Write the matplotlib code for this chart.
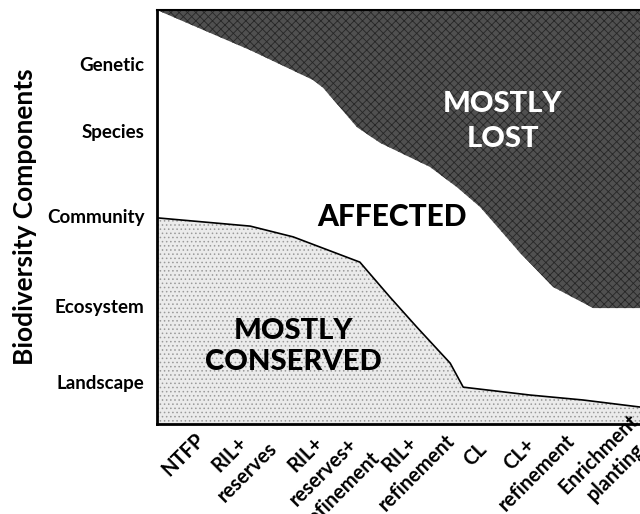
import matplotlib
matplotlib.use("Agg")
import matplotlib.pyplot as plt

plt.rcParams['font.family'] = ['Lato', 'DejaVu Sans']
plt.rcParams['hatch.linewidth'] = 0.6

# eixo y: componentes de biodiversidade (posicoes relativas, 0-100)
componentes = ['Landscape', 'Ecosystem', 'Community', 'Species', 'Genetic']
pos_comp = [10.1, 28.5, 50.2, 70.8, 87.0]

# eixo x: tratamentos (posicoes relativas, 0-100)
tratamentos = ['NTFP', 'RIL+\nreserves', 'RIL+\nreserves+\nrefinement', 'RIL+\nrefinement',
               'CL', 'CL+\nrefinement', 'Enrichment\nplanting']
pos_trat = [4.0, 13.5, 29.4, 48.7, 64.4, 73.5, 89.9]

# limite superior (afetado / perdido)
x_perdido = [0, 19.3, 32.3, 34.4, 41.4, 46.2, 56.5, 62.1, 66.9, 75.2, 82.0, 90.3, 100]
y_perdido = [100, 90.3, 83.1, 81.2, 71.7, 67.9, 62.1, 57.2, 52.4, 41.3, 33.1, 28.0, 28.0]

# limite inferior (conservado / afetado)
x_conserv = [0, 19.3, 28.2, 42.0, 48.2, 53.8, 60.7, 63.4, 77.2, 88.2, 100]
y_conserv = [49.8, 47.8, 45.2, 39.1, 30.7, 23.4, 14.7, 8.9, 7.0, 5.8, 4.1]

fig = plt.figure(figsize=(6.4, 5.14), dpi=100)
ax = fig.add_axes([0.2453, 0.1751, 0.7547, 0.8054])

# area perdida (escura)
ax.fill_between(x_perdido, y_perdido, 100, facecolor='#505050', edgecolor='#262626',
                hatch='xxxx', linewidth=0)
# area conservada (pontilhada)
ax.fill_between(x_conserv, 0, y_conserv, facecolor='#ebebeb', edgecolor='#9a9a9a',
                hatch='....', linewidth=0)
ax.plot(x_conserv, y_conserv, color='black', linewidth=1.2)

ax.text(48.7, 50.0, 'AFFECTED', ha='center', va='center', fontsize=21.5,
        fontweight='black', color='black')
ax.text(71.6, 73.1, 'MOSTLY\nLOST', ha='center', va='center', fontsize=21,
        fontweight='black', color='white', linespacing=1.42)
ax.text(28.2, 18.8, 'MOSTLY\nCONSERVED', ha='center', va='center', fontsize=21,
        fontweight='black', color='black', linespacing=1.25)

ax.set_xlim(0, 100)
ax.set_ylim(0, 100)

ax.set_yticks(pos_comp, componentes, fontsize=13.5, fontweight='bold')
ax.set_xticks(pos_trat, tratamentos, fontsize=14.5, fontweight='bold', rotation=45,
              ha='center', va='top', rotation_mode='anchor', multialignment='center',
              linespacing=1.3)
ax.tick_params(axis='both', length=0)
ax.tick_params(axis='y', pad=9)
ax.tick_params(axis='x', pad=17)

ax.set_ylabel('Biodiversity Components', fontsize=19, fontweight='bold', labelpad=7)

ax.spines['right'].set_visible(False)
ax.spines['left'].set_linewidth(2)
ax.spines['bottom'].set_linewidth(2)
ax.spines['top'].set_linewidth(1.5)

fig.savefig('out.png', dpi=100)
